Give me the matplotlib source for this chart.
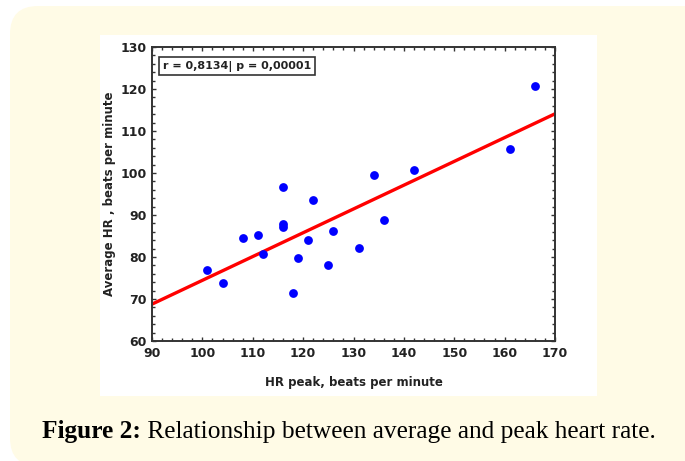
import matplotlib.pyplot as plt
import numpy as np
from matplotlib.patches import FancyBboxPatch, Rectangle
from matplotlib.ticker import MultipleLocator

# HR peak vs average HR
hr_peak = [101, 104, 108, 111, 112, 116, 116, 116, 118, 119,
           121, 122, 125, 126, 131, 134, 136, 142, 161, 166]
hr_avg = [76.9, 73.9, 84.5, 85.3, 80.6, 96.7, 87.8, 87.2, 71.5, 79.8,
          84.0, 93.5, 78.2, 86.1, 82.1, 99.5, 88.9, 100.6, 105.8, 120.7]
stats_text = "r = 0,8134| p = 0,00001"

fig = plt.figure(figsize=(6.85, 4.61), dpi=100)

# background in pixel units: cream rounded panel + white chart box
bg = fig.add_axes([0, 0, 1, 1])
bg.set_xlim(0, 685)
bg.set_ylim(461, 0)
bg.axis("off")
bg.add_patch(FancyBboxPatch((35, 31), 675, 410,
                            boxstyle="round,pad=25,rounding_size=28",
                            fc="#fffbe6", ec="none"))
bg.add_patch(Rectangle((100, 35), 497, 361, fc="white", ec="none"))

ax = fig.add_axes([152/685, 1 - 341/461, 403/685, 294/461])
ax.scatter(hr_peak, hr_avg, s=40, color="#0000ff", zorder=3, linewidths=0)

# least squares fit line
slope, icpt = np.polyfit(hr_peak, hr_avg, 1)
xs = np.array([90, 170])
ax.plot(xs, slope*xs + icpt, color="#ff0000", lw=2.4, zorder=2)

ax.set_xlim(90, 170)
ax.set_ylim(60, 130)
ax.xaxis.set_major_locator(MultipleLocator(10))
ax.yaxis.set_major_locator(MultipleLocator(10))
ax.xaxis.set_minor_locator(MultipleLocator(2))
ax.yaxis.set_minor_locator(MultipleLocator(2))
ax.tick_params(which="both", direction="in", top=True, right=True,
               color="#333333", width=1)
ax.tick_params(which="major", length=3, labelsize=9, pad=4)
ax.tick_params(which="minor", length=2)
for lab in ax.get_xticklabels() + ax.get_yticklabels():
    lab.set_fontweight("bold")
    lab.set_color("#222222")
for sp in ax.spines.values():
    sp.set_color("#333333")
    sp.set_linewidth(1.4)

ax.set_xlabel("HR peak, beats per minute", fontsize=8.5, fontweight="bold",
              color="#222222", labelpad=12)
ax.set_ylabel("Average HR , beats per minute", fontsize=8.5, fontweight="bold",
              color="#222222", labelpad=3)

ax.text(0.027, 0.935, stats_text, transform=ax.transAxes, fontsize=8,
        fontweight="bold", color="#222222", va="center", ha="left",
        bbox=dict(boxstyle="square,pad=0.35", fc="white", ec="#333333", lw=1.2))

# caption
t1 = bg.text(42, 438, "Figure 2:", fontsize=18.3, fontweight="bold",
             family="Liberation Serif", va="baseline", ha="left")
bg.annotate(" Relationship between average and peak heart rate.", xy=(1, 0),
            xycoords=t1, va="bottom", ha="left", fontsize=18.3,
            family="Liberation Serif")

fig.savefig("out.png", dpi=100)
